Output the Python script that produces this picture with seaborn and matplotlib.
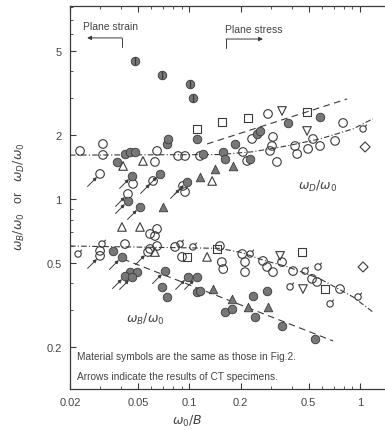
import numpy as np
import pandas as pd
import seaborn as sns
import matplotlib.pyplot as plt
from matplotlib.path import Path
from matplotlib.ticker import NullFormatter

# ---- data (x = w0/B, y = wB/w0 or wD/w0) ----
# open circles
oc_x = [0.0229, 0.0312, 0.0312, 0.0647, 0.0629, 0.0859, 0.0944, 0.1155, 0.233, 0.309,
        0.305, 0.297, 0.206, 0.218, 0.326, 0.416, 0.428, 0.530, 0.496, 0.583,
        0.714, 0.795, 0.289, 0.0468, 0.0944,
        0.030, 0.042, 0.0589, 0.0647, 0.0825, 0.0906, 0.155, 0.158, 0.151, 0.204,
        0.212, 0.212, 0.270, 0.285, 0.309, 0.349, 0.405, 0.523, 0.560, 0.763,
        0.0647, 0.0589, 0.0629]
oc_y = [1.685, 1.817, 1.613, 1.685, 1.495, 1.595, 1.595, 1.595, 1.919, 1.961,
        1.778, 1.685, 1.666, 1.511, 1.495, 1.778, 1.630, 1.919, 1.722, 1.778,
        1.878, 2.283, 2.518, 1.177, 1.079,
        0.569, 0.613, 0.581, 0.600, 0.594, 0.533, 0.504, 0.467, 0.600, 0.550,
        0.504, 0.452, 0.510, 0.478, 0.452, 0.504, 0.457, 0.420, 0.406, 0.376,
        0.722, 0.684, 0.669]
# open circles with a flag
fc_x = [1.041, 0.0223, 0.0308, 0.105, 0.0882, 0.227, 0.476, 0.567, 0.389, 0.667, 0.973]
fc_y = [2.139, 0.550, 0.613, 0.594, 0.613, 0.550, 0.457, 0.478, 0.385, 0.320, 0.345]
# filled circles
fi_x = [0.0377, 0.042, 0.0449, 0.0481, 0.074, 0.075, 0.111, 0.120, 0.1575, 0.162,
        0.185, 0.249, 0.260, 0.379, 0.583, 0.227,
        0.0357, 0.074, 0.0692, 0.111, 0.1155, 0.162, 0.236, 0.285, 0.243, 0.349,
        0.545, 0.178, 0.0449, 0.0494]
fi_y = [1.495, 1.630, 1.666, 1.666, 1.817, 1.919, 1.919, 1.630, 1.666, 1.544,
        1.817, 2.026, 2.093, 2.283, 2.437, 1.544,
        0.569, 0.345, 0.385, 0.364, 0.368, 0.293, 0.349, 0.368, 0.278, 0.252,
        0.219, 0.303, 0.452, 0.452]
# CT specimens (marked with arrows)
cto_x = [0.030, 0.0613, 0.0437, 0.0918, 0.030, 0.0573]
cto_y = [1.312, 1.216, 1.056, 1.152, 0.539, 0.562]
ctf_x = [0.0462, 0.0673, 0.0437, 0.0514, 0.0969, 0.0403, 0.042, 0.0462, 0.072, 0.0983, 0.111]
ctf_y = [1.284, 1.312, 0.978, 0.917, 1.203, 0.533, 0.433, 0.429, 0.457, 0.429, 0.429]
# triangles, squares, diamonds
ot_x = [0.0409, 0.0535, 0.136, 0.0403, 0.0514, 0.0629, 0.127]
ot_y = [1.431, 1.511, 1.216, 0.738, 0.738, 0.562, 0.533]
ft_x = [0.0701, 0.141, 0.1155, 0.180, 0.138, 0.178, 0.221, 0.289]
ft_y = [0.917, 1.385, 1.270, 1.431, 0.376, 0.338, 0.309, 0.309]
sq_x = [0.111, 0.155, 0.221, 0.489, 0.0969, 0.145, 0.457, 0.624]
sq_y = [2.139, 2.308, 2.411, 2.573, 0.533, 0.581, 0.562, 0.376]
it_x = [0.349, 0.489, 0.340, 0.463]
it_y = [2.601, 2.093, 0.539, 0.376]
dm_x = [1.070, 1.041]
dm_y = [1.759, 0.478]
sp_x = [0.0481, 0.0692, 0.1009, 0.1051]
sp_y = [4.48, 3.85, 3.49, 3.00]

# trend lines
d1_x = [0.02, 0.15, 0.236, 0.373, 0.583, 0.91, 1.19]
d1_y = [1.61, 1.62, 1.67, 1.78, 1.92, 2.14, 2.39]
d2_x = [0.127, 0.839]
d2_y = [1.817, 2.963]
b1_x = [0.02, 0.15, 0.20, 0.27, 0.373, 0.583, 0.91, 1.19]
b1_y = [0.60, 0.585, 0.56, 0.515, 0.48, 0.42, 0.345, 0.293]
b2_x = [0.0409, 0.695]
b2_y = [0.521, 0.214]

xticks = [0.02, 0.05, 0.1, 0.2, 0.5, 1]
xticklabels = ["0.02", "0.05", "0.1", "0.2", "0.5", "1"]
yticks = [0.2, 0.5, 1, 2, 5]
yticklabels = ["0.2", "0.5", "1", "2", "5"]

sns.set_style("ticks")
plt.rcParams['font.family'] = ['Liberation Sans', 'DejaVu Sans']
plt.rcParams['mathtext.fontset'] = 'dejavusans'

ink = "#3a3a3a"
gray = "#777777"

fig = plt.figure(figsize=(3.85, 4.31), dpi=100)
ax = fig.add_axes([70/385, 1-390/431, 322/385, 383/431])
ax.set_xscale("log")
ax.set_yscale("log")

# flag circle marker
circ = Path.unit_circle()
flag = Path([[0.7, 0.7], [1.15, 1.35]], [Path.MOVETO, Path.LINETO])
flag_marker = Path.make_compound_path(circ, flag)

S = 38
open_kw = dict(facecolor="none", edgecolor=ink, linewidth=0.8, s=S, ax=ax, zorder=3)
fill_kw = dict(facecolor=gray, edgecolor=ink, linewidth=0.6, s=S, ax=ax, zorder=3)

sns.scatterplot(x=oc_x, y=oc_y, marker="o", **open_kw)
sns.scatterplot(x=fc_x, y=fc_y, marker=flag_marker, **open_kw)
sns.scatterplot(x=cto_x, y=cto_y, marker="o", **open_kw)
sns.scatterplot(x=ot_x, y=ot_y, marker="^", **open_kw)
sns.scatterplot(x=sq_x, y=sq_y, marker="s", **open_kw)
sns.scatterplot(x=it_x, y=it_y, marker="v", **open_kw)
sns.scatterplot(x=dm_x, y=dm_y, marker="D", **dict(open_kw, s=26))
sns.scatterplot(x=fi_x, y=fi_y, marker="o", **fill_kw)
sns.scatterplot(x=ctf_x, y=ctf_y, marker="o", **fill_kw)
sns.scatterplot(x=ft_x, y=ft_y, marker="^", **fill_kw)
sns.scatterplot(x=sp_x, y=sp_y, marker="o", **fill_kw)
sns.scatterplot(x=sp_x, y=sp_y, marker="|", color=ink, s=S, linewidth=0.9, ax=ax, zorder=4)

# arrows for CT specimens
for x, y in zip(cto_x + ctf_x, cto_y + ctf_y):
    ax.annotate("", xy=(x, y), xytext=(-9, -9), textcoords="offset points",
                arrowprops=dict(arrowstyle="-|>", lw=0.7, color=ink,
                                mutation_scale=5, shrinkA=0, shrinkB=3.2))

# trend lines
sns.lineplot(x=d1_x, y=d1_y, ax=ax, color=ink, lw=0.8, sort=False,
             estimator=None, linestyle=(0, (5, 2, 1, 2)))
sns.lineplot(x=d2_x, y=d2_y, ax=ax, color=ink, lw=0.8, sort=False,
             estimator=None, linestyle=(0, (6, 4)))
sns.lineplot(x=b1_x, y=b1_y, ax=ax, color=ink, lw=0.8, sort=False,
             estimator=None, linestyle=(0, (5, 2, 1, 2)))
sns.lineplot(x=b2_x, y=b2_y, ax=ax, color=ink, lw=0.8, sort=False,
             estimator=None, linestyle=(0, (6, 4)))

ax.set_xlim(0.02, 1.538)
ax.set_ylim(0.127, 8.13)
ax.set_xticks(xticks)
ax.set_xticklabels(xticklabels)
ax.set_yticks(yticks)
ax.set_yticklabels(yticklabels)
ax.xaxis.set_minor_formatter(NullFormatter())
ax.yaxis.set_minor_formatter(NullFormatter())
ax.tick_params(which="major", direction="in", length=4, width=0.8, color=ink,
               labelsize=8, labelcolor="#444", top=True, pad=6)
ax.tick_params(which="minor", direction="in", length=2, width=0.6, color=ink, top=True)
for sp in ax.spines.values():
    sp.set_color(ink)
    sp.set_linewidth(0.9)

ax.set_xlabel(r"$\omega_0/B$", fontsize=9, color="#444")
ax.xaxis.set_label_coords(0.363, -0.062)
ax.set_ylabel(r"$\omega_B/\omega_0$   or   $\omega_D/\omega_0$", fontsize=9, color="#444")
ax.yaxis.set_label_coords(-0.134, 0.504)

ax.text(0.567, 1.164, r"$\omega_D/\omega_0$", fontsize=9, color="#444", ha="center", va="center")
ax.text(0.055, 0.272, r"$\omega_B/\omega_0$", fontsize=9, color="#444", ha="center", va="center")

ax.text(0.040, 0.948, "Plane strain", transform=ax.transAxes, fontsize=7.5, color="#444", va="center")
ax.text(0.481, 0.940, "Plane stress", transform=ax.transAxes, fontsize=7.5, color="#444", va="center")
ax.plot([0.0403, 0.0403], [5.21, 5.75], color=ink, lw=0.7)
ax.annotate("", xy=(0.0252, 5.75), xytext=(0.0403, 5.75),
            arrowprops=dict(arrowstyle="-|>", lw=0.7, color=ink, mutation_scale=6, shrinkA=0, shrinkB=0))
ax.plot([0.164, 0.164], [5.16, 5.68], color=ink, lw=0.7)
ax.annotate("", xy=(0.270, 5.68), xytext=(0.164, 5.68),
            arrowprops=dict(arrowstyle="-|>", lw=0.7, color=ink, mutation_scale=6, shrinkA=0, shrinkB=0))

ax.text(0.022, 0.086, "Material symbols are the same as those in Fig.2.", transform=ax.transAxes,
        fontsize=7.3, color="#444", va="center")
ax.text(0.022, 0.034, "Arrows indicate the results of CT specimens.", transform=ax.transAxes,
        fontsize=7.3, color="#444", va="center")

fig.savefig("out.png", dpi=100)
